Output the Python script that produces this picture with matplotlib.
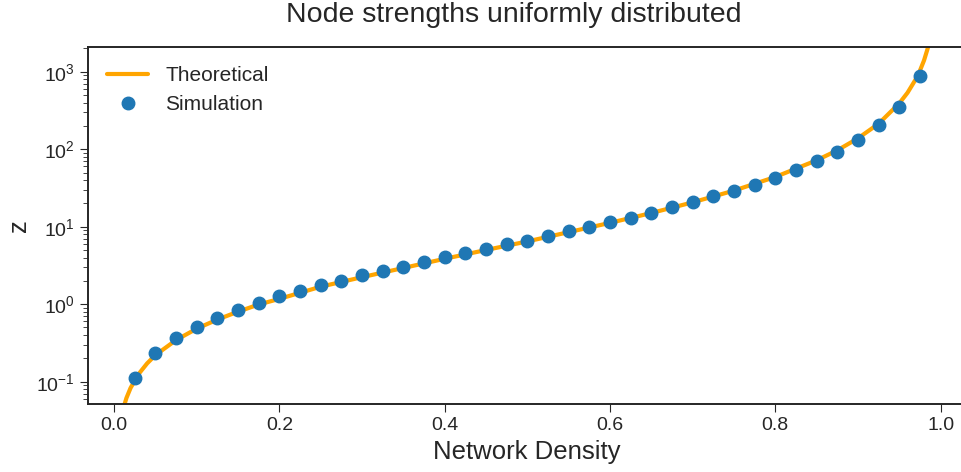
import matplotlib
matplotlib.use("Agg")
import matplotlib.pyplot as plt
import seaborn as sns

# theoretical z vs. density for uniformly distributed node strengths
theory_density = [0.010, 0.015, 0.02, 0.03, 0.04, 0.05, 0.075, 0.1, 0.125, 0.15,
                  0.175, 0.2, 0.25, 0.3, 0.35, 0.4, 0.45, 0.5, 0.55, 0.6,
                  0.65, 0.7, 0.75, 0.8, 0.85, 0.875, 0.9, 0.925, 0.95, 0.96,
                  0.97, 0.975, 0.98, 0.9867]
theory_z = [0.041, 0.0616, 0.083, 0.1265, 0.172, 0.22, 0.344, 0.483, 0.633, 0.80,
            0.99, 1.17, 1.68, 2.23, 2.93, 3.85, 5.0, 6.45, 8.5, 11.2,
            15.0, 20.6, 29.2, 43.8, 71.8, 96.6, 138, 213, 390, 535,
            800, 1030, 1400, 2400]

# simulated networks
sim_density = [0.025, 0.05, 0.075, 0.1, 0.125, 0.15, 0.175, 0.2, 0.225, 0.25,
               0.275, 0.3, 0.325, 0.35, 0.375, 0.4, 0.425, 0.45, 0.475, 0.5,
               0.525, 0.55, 0.575, 0.6, 0.625, 0.65, 0.675, 0.7, 0.725, 0.75,
               0.775, 0.8, 0.825, 0.85, 0.875, 0.9, 0.925, 0.95, 0.975]
sim_z = [0.111, 0.232, 0.363, 0.513, 0.670, 0.841, 1.045, 1.276, 1.48, 1.75,
         2.01, 2.36, 2.71, 3.05, 3.50, 4.06, 4.58, 5.20, 5.93, 6.60,
         7.59, 8.73, 9.82, 11.4, 12.9, 15.0, 17.8, 20.6, 24.7, 28.9,
         34.5, 42.9, 53.9, 70.4, 92.9, 131, 203, 351, 881]

sns.set_style("ticks")
plt.rcParams['font.family'] = ['Liberation Sans', 'DejaVu Sans']

fig = plt.figure(figsize=(9.62, 4.72), dpi=100)
# axes run a little past the right edge so the right spine is cut off
ax = fig.add_axes([0.0915, 0.1441, 0.912, 0.7557])

ax.plot(theory_density, theory_z, color='orange', lw=3, label='Theoretical', zorder=2)
ax.plot(sim_density, sim_z, 'o', color='#1f77b4', ms=9, label='Simulation', zorder=3)

ax.set_yscale('log')
ax.set_xlim(-0.0315, 1.03)
ax.set_ylim(0.0515, 2065)

ax.set_title('Node strengths uniformly distributed', fontsize=20.5, color='.15',
             pad=18, x=0.485)
ax.set_xlabel('Network Density', fontsize=18.5, color='.15')
ax.set_ylabel('z', fontsize=18.5, color='.15')
ax.tick_params(axis='both', which='major', labelsize=14, length=6, colors='.15')
ax.tick_params(axis='y', which='minor', length=3.5, colors='.15')
ax.set_xticks([0.0, 0.2, 0.4, 0.6, 0.8, 1.0])
for sp in ax.spines.values():
    sp.set_linewidth(1.4)
ax.spines['right'].set_visible(False)

ax.legend(loc='upper left', frameon=False, fontsize=15)

fig.savefig('out.png', dpi=100)
